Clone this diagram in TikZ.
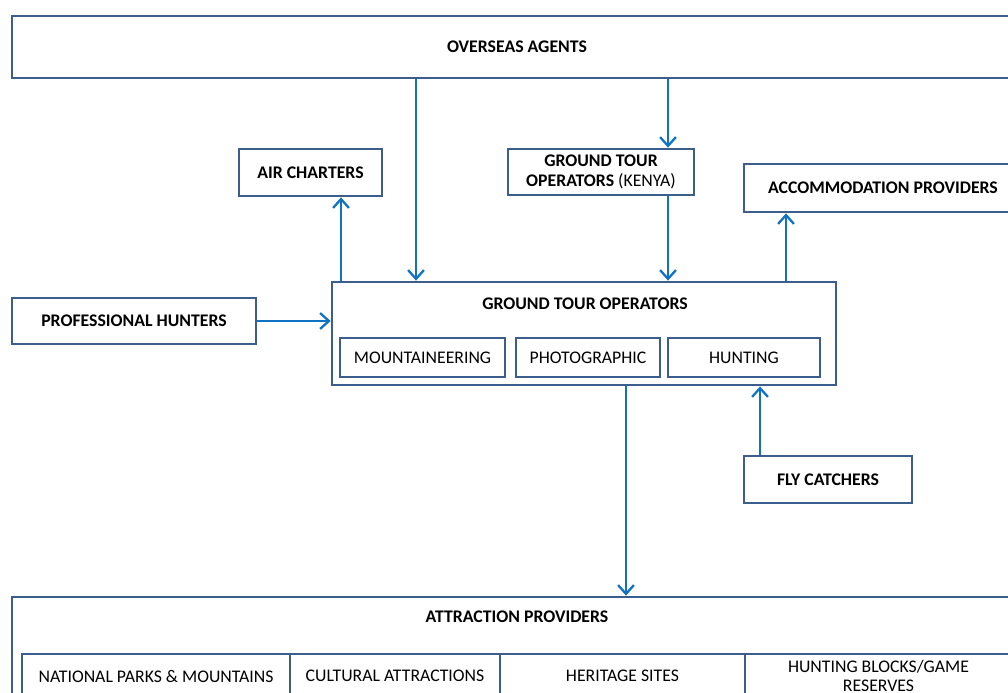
\documentclass[tikz,border=0pt]{standalone}
\usepackage{fontspec}
\setmainfont{Carlito}
\usepackage{tikz}
\usetikzlibrary{arrows.meta}
\definecolor{boxline}{RGB}{59,94,140}
\definecolor{flowline}{RGB}{16,114,196}

\begin{document}
\begin{tikzpicture}[x=0.02cm,y=-0.02cm,
  box/.style={draw=boxline,line width=1.6pt,inner sep=0pt,align=center,
    font=\fontsize{10.1}{11.5}\selectfont\bfseries},
  subbox/.style={box,font=\fontsize{10.1}{11.5}\selectfont},
  flow/.style={draw=flowline,line width=1.3pt,-{Straight Barb[length=5pt,width=9pt,line width=1.3pt]}}]
\useasboundingbox (0,0) rectangle (1008,693);
\clip (0,0) rectangle (1008,693);
\fill[white] (0,0) rectangle (1008,693);

\node[box,minimum width=1010*0.02cm,minimum height=62*0.02cm] (agents) at (517,47) {OVERSEAS AGENTS};
\node[box,minimum width=143*0.02cm,minimum height=47*0.02cm] (air) at (310.5,172.5) {AIR CHARTERS};
\node[box,minimum width=186*0.02cm,minimum height=46*0.02cm] (gtok) at (601,172) {GROUND TOUR\\OPERATORS \mdseries(KENYA)};
\node[box,minimum width=278*0.02cm,minimum height=48*0.02cm] (accom) at (883,188) {ACCOMMODATION PROVIDERS};
\node[box,minimum width=244*0.02cm,minimum height=46*0.02cm] (hunters) at (134,321) {PROFESSIONAL HUNTERS};
\node[box,minimum width=504*0.02cm,minimum height=103*0.02cm] (gto) at (584,333.5) {};
\node[font=\fontsize{10.1}{11.5}\selectfont\bfseries] (gtotitle) at (585,304) {GROUND TOUR OPERATORS};
\node[subbox,minimum width=165*0.02cm,minimum height=39*0.02cm] (mount) at (422.5,357.5) {MOUNTAINEERING};
\node[subbox,minimum width=144*0.02cm,minimum height=39*0.02cm] (photo) at (588,357.5) {PHOTOGRAPHIC};
\node[subbox,minimum width=152*0.02cm,minimum height=39*0.02cm] (hunting) at (744,357.5) {HUNTING};
\node[box,minimum width=168*0.02cm,minimum height=47*0.02cm] (fly) at (828,479.5) {FLY CATCHERS};

\node[box,minimum width=1010*0.02cm,minimum height=120*0.02cm] (attr) at (517,657) {};
\node[font=\fontsize{10.1}{11.5}\selectfont\bfseries] (attrtitle) at (517,617) {ATTRACTION PROVIDERS};
\node[subbox,minimum width=268*0.02cm,minimum height=44*0.02cm] (parks) at (156,676) {NATIONAL PARKS \& MOUNTAINS};
\node[subbox,minimum width=210*0.02cm,minimum height=44*0.02cm] (cultural) at (395,676) {CULTURAL ATTRACTIONS};
\node[subbox,minimum width=245*0.02cm,minimum height=44*0.02cm] (heritage) at (622.5,676) {HERITAGE SITES};
\node[subbox,minimum width=267*0.02cm,minimum height=44*0.02cm,
  font=\fontsize{10.1}{11}\selectfont] (blocks) at (878.5,676) {HUNTING BLOCKS/GAME\\RESERVES};

\draw[flow] (agents.south -| 416,0) -- (gto.north -| 416,0);
\draw[flow] (agents.south -| 668,0) -- (gtok.north -| 668,0);
\draw[flow] (gtok.south -| 668,0) -- (gto.north -| 668,0);
\draw[flow] (gto.north -| 341,0) -- (air.south -| 341,0);
\draw[flow] (gto.north -| 786,0) -- (accom.south -| 786,0);
\draw[flow] (hunters.east) -- (hunters.east -| gto.west);
\draw[flow] (fly.north -| 760,0) -- (gto.south -| 760,0);
\draw[flow] (gto.south -| 626,0) -- (attr.north -| 626,0);
\end{tikzpicture}
\end{document}
